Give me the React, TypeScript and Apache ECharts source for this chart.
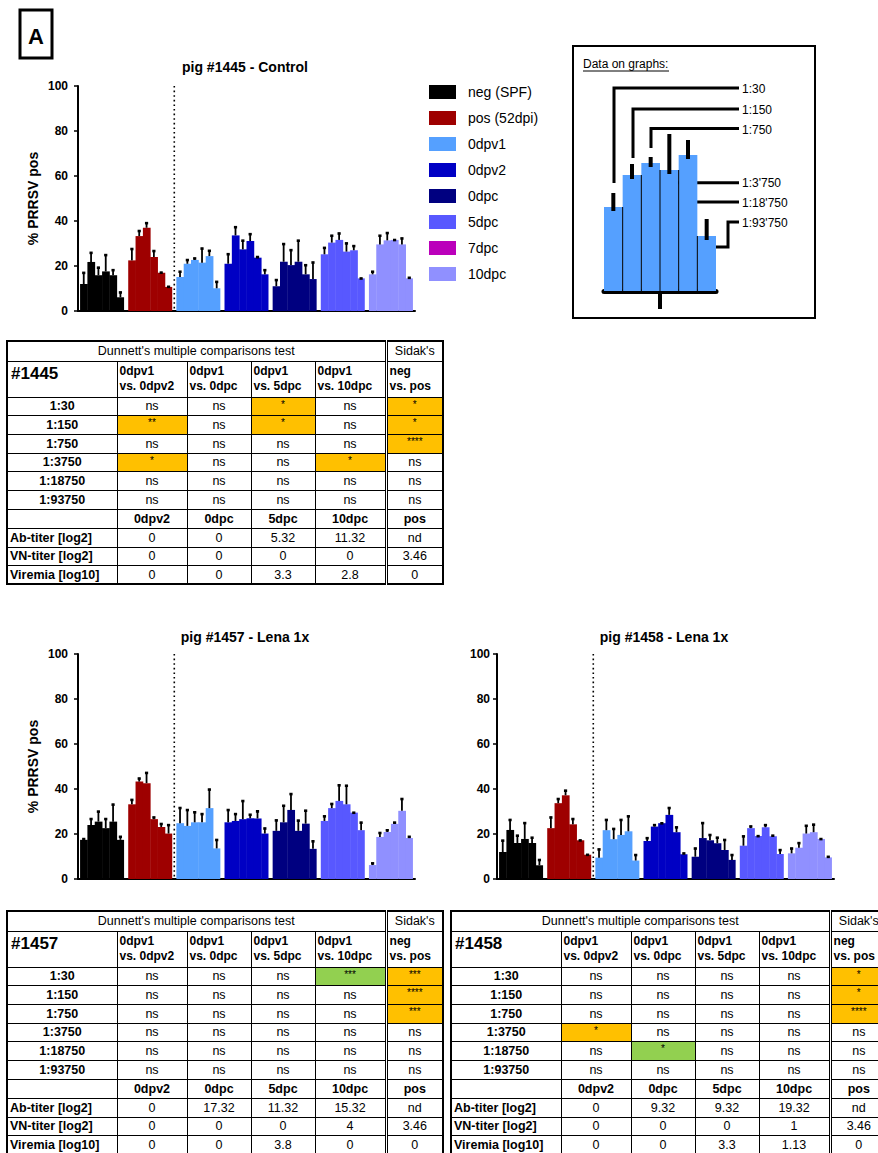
import React, { useEffect, useRef } from 'react';
import * as echarts from 'echarts';

const FONT = '"Liberation Sans", Arial, sans-serif';

const groupNames = ['neg (SPF)', 'pos (52dpi)', '0dpv1', '0dpv2', '0dpc', '5dpc', '10dpc'];
const legendNames = ['neg (SPF)', 'pos (52dpi)', '0dpv1', '0dpv2', '0dpc', '5dpc', '7dpc', '10dpc'];
const groupColors = ['#000000', '#9E0000', '#55A0FF', '#0000C4', '#000080', '#5858FF', '#9090FF'];
const color7dpc = '#BB00BB';

// pig #1445 - Control : mean and error (SD up) per group x dilution
const mean1445 = [
  [12.0, 21.8, 15.9, 17.6, 15.9, 6.1],
  [22.5, 33.3, 37.0, 24.0, 17.0, 10.7],
  [15.1, 21.0, 22.7, 21.5, 24.4, 10.1],
  [21.0, 33.6, 27.4, 31.1, 23.7, 16.3],
  [11.0, 21.9, 20.4, 21.9, 16.3, 14.2],
  [25.2, 30.4, 31.6, 26.4, 27.0, 14.5],
  [16.3, 29.6, 31.4, 31.6, 29.6, 14.5],
];
const err1445 = [
  [5.3, 4.4, 3.7, 7.6, 2.6, 2.5],
  [5.4, 2.6, 2.4, 3.0, 0.4, 0.4],
  [2.7, 2.0, 1.0, 6.6, 2.7, 3.2],
  [4.6, 4.0, 4.2, 3.4, 0.6, 2.2],
  [3.1, 8.2, 7.0, 9.7, 4.4, 7.7],
  [3.2, 3.4, 3.2, 4.0, 2.2, 0.3],
  [1.5, 4.2, 3.6, 0.3, 3.0, 0.6],
];
// pig #1457 - Lena 1x
const mean1457 = [
  [17.4, 24.0, 25.5, 22.6, 25.5, 17.4],
  [33.2, 43.3, 42.6, 26.6, 23.1, 20.2],
  [24.8, 23.6, 25.2, 25.2, 31.5, 13.6],
  [25.2, 25.8, 26.6, 27.0, 26.9, 20.2],
  [21.4, 25.2, 30.7, 21.4, 24.6, 13.4],
  [25.8, 31.5, 34.7, 33.2, 29.5, 21.7],
  [6.2, 18.7, 20.9, 24.5, 30.3, 18.2],
];
const err1457 = [
  [0.7, 3.0, 4.8, 4.4, 7.9, 1.7],
  [2.3, 1.7, 4.9, 1.1, 1.7, 4.1],
  [7.1, 7.4, 4.8, 4.0, 8.6, 4.1],
  [5.8, 3.4, 8.4, 1.9, 3.5, 2.6],
  [5.0, 7.7, 7.4, 4.9, 6.1, 3.7],
  [2.4, 2.2, 7.3, 8.6, 0.3, 3.7],
  [1.1, 2.1, 1.1, 0.9, 5.6, 0.9],
];
// pig #1458 - Lena 1x
const mean1458 = [
  [12.0, 21.8, 16.0, 17.8, 16.0, 6.1],
  [22.6, 33.7, 37.2, 24.3, 17.2, 10.8],
  [9.5, 21.7, 17.7, 19.6, 21.2, 8.2],
  [16.9, 23.3, 24.8, 28.5, 20.8, 11.0],
  [9.9, 18.2, 17.2, 15.9, 12.9, 8.5],
  [14.8, 22.6, 19.1, 23.0, 19.0, 11.1],
  [11.4, 13.9, 20.2, 20.8, 17.8, 9.6],
];
const err1458 = [
  [5.4, 4.8, 3.6, 7.4, 2.7, 2.7],
  [5.1, 2.2, 2.4, 2.7, 0.3, 0.3],
  [4.0, 4.9, 4.9, 7.0, 7.0, 2.8],
  [1.6, 1.0, 0.3, 3.4, 2.5, 0.7],
  [4.0, 7.0, 2.7, 2.8, 4.8, 2.5],
  [4.5, 1.1, 0.3, 1.3, 0.6, 2.1],
  [2.5, 2.4, 3.8, 3.7, 0.3, 0.6],
];

// "Data on graphs" explanatory inset
const insetLabels = ['1:30', '1:150', '1:750', "1:3'750", "1:18'750", "1:93'750"];
const insetMeans = [42, 58, 64, 60.5, 68, 27.5];
const insetErr = [7, 5.5, 3, 18, 7.5, 8.5];

const yMin = 0;
const yMax = 100;
const yInterval = 20;

// Tables
const dilutionLabels = ['1:30', '1:150', '1:750', '1:3750', '1:18750', '1:93750'];
const compHeaders = [
  ['0dpv1', 'vs. 0dpv2'],
  ['0dpv1', 'vs. 0dpc'],
  ['0dpv1', 'vs. 5dpc'],
  ['0dpv1', 'vs. 10dpc'],
  ['neg', 'vs. pos'],
];
const titerHeaders = ['0dpv2', '0dpc', '5dpc', '10dpc', 'pos'];
const titerLabels = ['Ab-titer [log2]', 'VN-titer [log2]', 'Viremia [log10]'];

const sig1445 = [
  ['ns', 'ns', '*', 'ns', '*'],
  ['**', 'ns', '*', 'ns', '*'],
  ['ns', 'ns', 'ns', 'ns', '****'],
  ['*', 'ns', 'ns', '*', 'ns'],
  ['ns', 'ns', 'ns', 'ns', 'ns'],
  ['ns', 'ns', 'ns', 'ns', 'ns'],
];
const green1445: number[][] = [];
const ab1445 = ['0', '0', '5.32', '11.32', 'nd'];
const vn1445 = ['0', '0', '0', '0', '3.46'];
const vir1445 = ['0', '0', '3.3', '2.8', '0'];

const sig1457 = [
  ['ns', 'ns', 'ns', '***', '***'],
  ['ns', 'ns', 'ns', 'ns', '****'],
  ['ns', 'ns', 'ns', 'ns', '***'],
  ['ns', 'ns', 'ns', 'ns', 'ns'],
  ['ns', 'ns', 'ns', 'ns', 'ns'],
  ['ns', 'ns', 'ns', 'ns', 'ns'],
];
const green1457 = [[0, 3]];
const ab1457 = ['0', '17.32', '11.32', '15.32', 'nd'];
const vn1457 = ['0', '0', '0', '4', '3.46'];
const vir1457 = ['0', '0', '3.8', '0', '0'];

const sig1458 = [
  ['ns', 'ns', 'ns', 'ns', '*'],
  ['ns', 'ns', 'ns', 'ns', '*'],
  ['ns', 'ns', 'ns', 'ns', '****'],
  ['*', 'ns', 'ns', 'ns', 'ns'],
  ['ns', '*', 'ns', 'ns', 'ns'],
  ['ns', 'ns', 'ns', 'ns', 'ns'],
];
const green1458 = [[4, 1]];
const ab1458 = ['0', '9.32', '9.32', '19.32', 'nd'];
const vn1458 = ['0', '0', '0', '1', '3.46'];
const vir1458 = ['0', '0', '3.3', '1.13', '0'];

const renderBar = (color: string) => (params: any, api: any) => {
  const g = api.value(0);
  const v = api.value(1);
  const e = api.value(2);
  const d = api.value(3);
  const band = api.size([1, 0])[0];
  const gw = (band * 44) / 48.14;
  const bw = gw / 6;
  const c = api.coord([g, v]);
  const base = api.coord([g, 0]);
  const top = api.coord([g, v + e]);
  const x0 = c[0] - gw / 2 + d * bw;
  const cx = x0 + bw / 2;
  return {
    type: 'group',
    children: [
      { type: 'rect', shape: { x: x0, y: c[1], width: d < 5 ? bw + 0.4 : bw, height: base[1] - c[1] }, style: { fill: color } },
      { type: 'rect', shape: { x: cx - 0.9, y: top[1], width: 1.8, height: Math.max(0, c[1] - top[1]) }, style: { fill: '#000' } },
      { type: 'rect', shape: { x: cx - 1.6, y: top[1] - 0.5, width: 3.2, height: 2.6 }, style: { fill: '#000' } },
    ],
  };
};

const renderDivider = (params: any, api: any) => {
  const band = api.size([1, 0])[0];
  const b = api.coord([api.value(0), 0]);
  const t = api.coord([api.value(0), api.value(1)]);
  const x = b[0] + band / 2;
  return {
    type: 'line',
    shape: { x1: x, y1: t[1], x2: x, y2: b[1] },
    style: { stroke: '#000', lineWidth: 1.6, lineDash: [1.6, 3] },
  };
};

const renderInset = (params: any, api: any) => {
  const i = api.value(0);
  const v = api.value(1);
  const e = api.value(2);
  const band = api.size([1, 0])[0];
  const c = api.coord([i, v]);
  const base = api.coord([i, 0]);
  const eTop = api.coord([i, v + e]);
  const eBot = api.coord([i, v - 2]);
  const x0 = c[0] - band / 2;
  const children: any[] = [
    { type: 'rect', shape: { x: x0, y: c[1], width: band, height: base[1] - c[1] }, style: { fill: '#55A0FF' } },
  ];
  if (i > 0) {
    const lower = Math.min(v, insetMeans[i - 1]);
    const ly = api.coord([i, lower])[1];
    children.push({ type: 'line', shape: { x1: x0, y1: ly, x2: x0, y2: base[1] }, style: { stroke: '#000', lineWidth: 1 } });
  }
  children.push({ type: 'rect', shape: { x: c[0] - 2, y: eTop[1], width: 4, height: eBot[1] - eTop[1] }, style: { fill: '#000' } });
  return { type: 'group', children };
};

const pigs = [
  { mean: mean1445, err: err1445, grid: { left: 78, top: 86, width: 337, height: 225 }, yName: '% PRRSV pos', margin: 10 },
  { mean: mean1457, err: err1457, grid: { left: 78, top: 654, width: 337, height: 225 }, yName: '% PRRSV pos', margin: 10 },
  { mean: mean1458, err: err1458, grid: { left: 497, top: 654, width: 337, height: 225 }, yName: '', margin: 7 },
];

function buildOption() {
  const grid: any[] = pigs.map((p) => ({ ...p.grid, containLabel: false }));
  grid.push({ left: 604, top: 91, width: 112, height: 200 });
  const xAxis: any[] = pigs.map((p, k) => ({
    type: 'category',
    gridIndex: k,
    data: groupNames,
    boundaryGap: true,
    axisLine: { lineStyle: { color: '#000', width: 2 } },
    axisTick: { alignWithLabel: true, length: 5, lineStyle: { color: '#000', width: 2 } },
    axisLabel: { show: false },
  }));
  xAxis.push({
    type: 'category',
    gridIndex: 3,
    data: insetLabels,
    boundaryGap: true,
    axisLine: { lineStyle: { color: '#000', width: 5 } },
    axisTick: { show: false },
    axisLabel: { show: false },
  });
  const yAxis: any[] = pigs.map((p, k) => ({
    type: 'value',
    gridIndex: k,
    min: yMin,
    max: yMax,
    interval: yInterval,
    axisLine: { show: true, lineStyle: { color: '#000', width: 2 } },
    axisTick: { show: true, length: 4, lineStyle: { color: '#000', width: 1.5 } },
    axisLabel: { color: '#000', fontWeight: 'bold', fontSize: 12, fontFamily: FONT, margin: p.margin },
    splitLine: { show: false },
    name: p.yName,
    nameLocation: 'middle',
    nameGap: 38,
    nameTextStyle: { color: '#000', fontWeight: 'bold', fontSize: 14, fontFamily: FONT },
  }));
  yAxis.push({ type: 'value', gridIndex: 3, min: 0, max: 100, show: false });

  const series: any[] = [];
  pigs.forEach((p, k) => {
    groupNames.forEach((name, g) => {
      series.push({
        type: 'custom',
        name,
        xAxisIndex: k,
        yAxisIndex: k,
        itemStyle: { color: groupColors[g] },
        encode: { x: 0, y: 1 },
        renderItem: renderBar(groupColors[g]),
        data: p.mean[g].map((v, d) => [g, v, p.err[g][d], d]),
      });
    });
    series.push({
      type: 'custom',
      name: 'divider',
      xAxisIndex: k,
      yAxisIndex: k,
      encode: { x: 0, y: 1 },
      renderItem: renderDivider,
      data: [[1, yMax]],
    });
  });
  series.push({
    type: 'custom',
    name: '7dpc',
    xAxisIndex: 0,
    yAxisIndex: 0,
    itemStyle: { color: color7dpc },
    renderItem: () => null,
    data: [],
  });
  series.push({
    type: 'custom',
    name: 'inset',
    xAxisIndex: 3,
    yAxisIndex: 3,
    encode: { x: 0, y: 1 },
    renderItem: renderInset,
    data: insetMeans.map((v, i) => [i, v, insetErr[i]]),
  });

  const txt = (text: string, x: number, y: number, extra: any = {}) => ({
    type: 'text',
    x,
    y,
    style: { text, fill: '#000', fontFamily: FONT, fontSize: 12, textVerticalAlign: 'middle', ...extra },
  });
  const leader = (pts: number[][]) => ({
    type: 'polyline',
    shape: { points: pts },
    style: { stroke: '#000', lineWidth: 3, fill: null },
  });

  const graphic: any[] = [
    { type: 'rect', shape: { x: 20, y: 10, width: 32, height: 48 }, style: { stroke: '#000', lineWidth: 3, fill: '#fff' } },
    txt('A', 36, 36, { fontSize: 22, fontWeight: 'bold', textAlign: 'center' }),
    txt('pig #1445 - Control', 245, 67, { fontSize: 14, fontWeight: 'bold', textAlign: 'center' }),
    txt('pig #1457 - Lena 1x', 245, 637, { fontSize: 14, fontWeight: 'bold', textAlign: 'center' }),
    txt('pig #1458 - Lena 1x', 664, 637, { fontSize: 14, fontWeight: 'bold', textAlign: 'center' }),
    { type: 'rect', shape: { x: 573, y: 46, width: 242, height: 272 }, style: { stroke: '#000', lineWidth: 2, fill: null } },
    txt('Data on graphs:', 583, 64, { fontSize: 12 }),
    { type: 'line', shape: { x1: 583, y1: 71, x2: 669, y2: 71 }, style: { stroke: '#000', lineWidth: 1 } },
    leader([[614, 183], [614, 88], [739, 88]]),
    leader([[633, 158], [633, 109], [739, 109]]),
    leader([[651, 148], [651, 128.5], [739, 128.5]]),
    leader([[669, 182.7], [739, 182.7]]),
    leader([[689, 202], [739, 202]]),
    leader([[707, 247], [728, 247], [728, 222], [739, 222]]),
    txt(insetLabels[0], 742, 89),
    txt(insetLabels[1], 742, 110),
    txt(insetLabels[2], 742, 130),
    txt(insetLabels[3], 742, 183),
    txt(insetLabels[4], 742, 203),
    txt(insetLabels[5], 742, 223),
    { type: 'line', shape: { x1: 660, y1: 293, x2: 660, y2: 309 }, style: { stroke: '#000', lineWidth: 4 } },
  ];

  return {
    animation: false,
    backgroundColor: 'transparent',
    textStyle: { fontFamily: FONT },
    grid,
    xAxis,
    yAxis,
    legend: {
      data: legendNames,
      orient: 'vertical',
      left: 429,
      top: 85,
      itemWidth: 27,
      itemHeight: 14,
      itemGap: 12,
      icon: 'rect',
      selectedMode: false,
      padding: 0,
      textStyle: { fontSize: 14, color: '#000', fontFamily: FONT, padding: [0, 0, 0, 7] },
    },
    series,
    graphic,
  };
}

function StatTable(props: any) {
  const { id, sig, green, ab, vn, vir, left, top } = props;
  const colW = [110, 70, 64, 64, 71, 57];
  const cell: any = {
    border: '1px solid #000',
    padding: 0,
    textAlign: 'center',
    overflow: 'hidden',
    whiteSpace: 'nowrap',
    fontSize: 12.5,
    lineHeight: '14px',
  };
  const sep: any = { borderLeft: '3px double #000' };
  const titerRows = [ab, vn, vir];
  return (
    <table
      style={{
        position: 'absolute',
        left,
        top,
        width: 436,
        borderCollapse: 'collapse',
        tableLayout: 'fixed',
        border: '2px solid #000',
        fontFamily: FONT,
        color: '#000',
        background: '#fff',
      }}
    >
      <colgroup>
        {colW.map((w, i) => (
          <col key={i} style={{ width: w }} />
        ))}
      </colgroup>
      <tbody>
        <tr style={{ height: 20 }}>
          <td colSpan={5} style={cell}>Dunnett's multiple comparisons test</td>
          <td style={{ ...cell, ...sep }}>Sidak's</td>
        </tr>
        <tr style={{ height: 36 }}>
          <td style={{ ...cell, textAlign: 'left', verticalAlign: 'top', fontWeight: 'bold', fontSize: 17, lineHeight: '20px', paddingLeft: 3, paddingTop: 2 }}>#{id}</td>
          {compHeaders.map((h, i) => (
            <td
              key={i}
              style={{ ...cell, ...(i === 4 ? sep : {}), textAlign: 'left', verticalAlign: 'top', fontWeight: 'bold', fontSize: 12, lineHeight: '15px', paddingLeft: 2, paddingTop: 2 }}
            >
              {h[0]}
              <br />
              {h[1]}
            </td>
          ))}
        </tr>
        {dilutionLabels.map((d, r) => (
          <tr key={d} style={{ height: 18.7 }}>
            <td style={{ ...cell, fontWeight: 'bold' }}>{d}</td>
            {sig[r].map((s: string, c: number) => {
              const ns = s === 'ns';
              const isGreen = green.some((gc: number[]) => gc[0] === r && gc[1] === c);
              const bg = ns ? '#fff' : isGreen ? '#92D050' : '#FFC000';
              return (
                <td
                  key={c}
                  style={{ ...cell, ...(c === 4 ? sep : {}), background: bg, fontSize: ns ? 12.5 : 10, verticalAlign: ns ? 'middle' : 'top', lineHeight: ns ? '14px' : '13px' }}
                >
                  {s}
                </td>
              );
            })}
          </tr>
        ))}
        <tr style={{ height: 19.3 }}>
          <td style={cell}></td>
          {titerHeaders.map((h, i) => (
            <td key={i} style={{ ...cell, ...(i === 4 ? sep : {}), fontWeight: 'bold' }}>{h}</td>
          ))}
        </tr>
        {titerLabels.map((lab, r) => (
          <tr key={lab} style={{ height: 18.7 }}>
            <td style={{ ...cell, textAlign: 'left', fontWeight: 'bold', paddingLeft: 2 }}>{lab}</td>
            {titerRows[r].map((v: string, i: number) => (
              <td key={i} style={{ ...cell, ...(i === 4 ? sep : {}) }}>{v}</td>
            ))}
          </tr>
        ))}
      </tbody>
    </table>
  );
}

export default function App() {
  const ref = useRef<HTMLDivElement>(null);
  useEffect(() => {
    if (!ref.current) return;
    const chart = echarts.init(ref.current, null, { renderer: 'svg' });
    chart.setOption(buildOption() as any);
    return () => chart.dispose();
  }, []);
  return (
    <div style={{ position: 'absolute', left: 0, top: 0, width: 878, height: 1153, overflow: 'hidden', background: '#fff' }}>
      <div ref={ref} style={{ position: 'absolute', left: 0, top: 0, width: 878, height: 1153 }} />
      <StatTable id="1445" sig={sig1445} green={green1445} ab={ab1445} vn={vn1445} vir={vir1445} left={6} top={340} />
      <StatTable id="1457" sig={sig1457} green={green1457} ab={ab1457} vn={vn1457} vir={vir1457} left={6} top={910} />
      <StatTable id="1458" sig={sig1458} green={green1458} ab={ab1458} vn={vn1458} vir={vir1458} left={450} top={910} />
    </div>
  );
}
